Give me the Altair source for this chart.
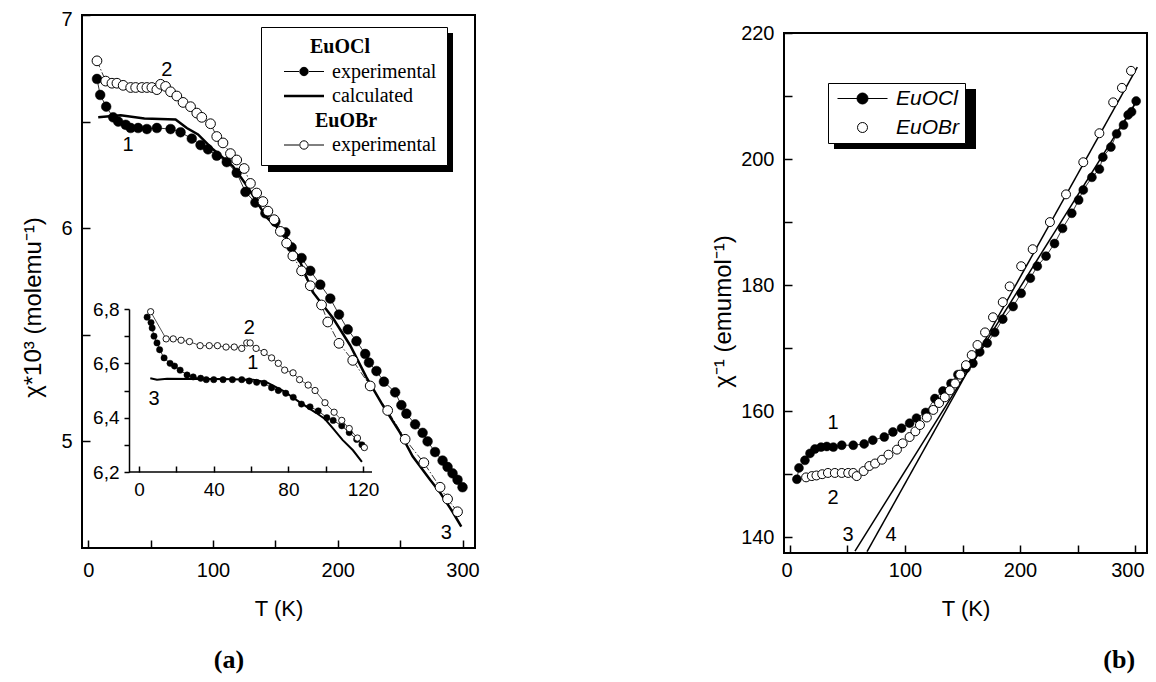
import altair as alt
import pandas as pd

SANS = "Liberation Sans"
SERIF = "Liberation Serif"

# ---------------- panel (a): main ----------------
a_cl_T = [7, 9.6, 14.4, 20, 24, 30, 34, 40, 47, 55, 66, 74, 83, 90, 96, 103, 111, 119, 126, 134, 142,
          150, 158, 163, 171, 178, 186, 194, 201, 208, 215, 222, 225, 231, 237, 246, 251, 255, 262, 268,
          272, 278, 284, 288, 292, 296, 300]
a_cl_v = [6.70, 6.625, 6.57, 6.52, 6.50, 6.485, 6.47, 6.47, 6.465, 6.47, 6.465, 6.45, 6.42, 6.39, 6.37,
          6.34, 6.31, 6.26, 6.17, 6.12, 6.07, 6.03, 5.98, 5.91, 5.86, 5.80, 5.735, 5.67, 5.595, 5.525,
          5.47, 5.41, 5.37, 5.33, 5.28, 5.23, 5.17, 5.13, 5.08, 5.04, 5.00, 4.95, 4.91, 4.88, 4.85, 4.82, 4.785]
a_br_T = [7, 14, 19, 23, 28, 34, 38, 43, 47, 51, 55, 58, 62, 66, 71, 76, 82, 87, 91, 98, 103, 108, 114,
          119, 125, 130, 135, 140, 144, 149, 154, 159, 164, 171, 178, 187, 192, 201, 212, 226, 240, 254,
          269, 282, 288, 296]
a_br_v = [6.785, 6.69, 6.68, 6.68, 6.67, 6.66, 6.66, 6.66, 6.66, 6.66, 6.65, 6.675, 6.665, 6.64, 6.62,
          6.59, 6.57, 6.54, 6.52, 6.49, 6.43, 6.40, 6.35, 6.32, 6.28, 6.21, 6.165, 6.125, 6.08, 6.04,
          5.985, 5.93, 5.87, 5.80, 5.73, 5.64, 5.56, 5.46, 5.38, 5.26, 5.145, 5.01, 4.90, 4.785, 4.73, 4.67]
a_calc_T = [8, 26, 45, 70, 79, 88, 100, 116, 127, 143, 156, 170, 180, 196, 210, 223, 236, 250, 260, 274,
            282, 292, 299]
a_calc_v = [6.52, 6.53, 6.515, 6.51, 6.47, 6.44, 6.37, 6.29, 6.20, 6.05, 5.98, 5.84, 5.70, 5.58, 5.45,
            5.30, 5.17, 5.04, 4.93, 4.82, 4.76, 4.67, 4.60]
a_note_text = ["1", "2", "3"]
a_note_T = [32, 63, 287]
a_note_v = [6.39, 6.74, 4.57]
a_tag_text = ["(a)"]
a_tag_T = [112.8]
a_tag_v = [3.975]
a_x_domain = [-5, 310]
a_y_domain = [4.5, 7]
a_x_ticks = [0, 50, 100, 150, 200, 250, 300]
a_y_ticks = [5, 5.5, 6, 6.5, 7]
a_leg_keys = ["Cl_head", "Cl_exp", "Cl_calc", "Br_head", "Br_exp"]
a_leg_labels = ["EuOCl", "experimental", "calculated", "EuOBr", "experimental"]

# ---------------- panel (a): inset ----------------
i_cl_T = [4.3, 6.4, 7, 8, 9.6, 11, 13.4, 16.6, 19, 22, 25.7, 29, 33, 36, 40, 45, 50, 55, 59, 63, 67, 71,
          74.6, 78.6, 82.6, 87, 91.6, 96, 100.6, 104, 108.6, 112.6, 116.6, 119.4]
i_cl_v = [6.77, 6.75, 6.73, 6.70, 6.675, 6.65, 6.62, 6.60, 6.59, 6.575, 6.557, 6.55, 6.545, 6.54, 6.54,
          6.54, 6.54, 6.54, 6.535, 6.53, 6.527, 6.51, 6.50, 6.49, 6.475, 6.45, 6.44, 6.425, 6.40, 6.39,
          6.37, 6.345, 6.32, 6.30]
i_br_T = [6.2, 14.5, 18.3, 22.5, 27, 32.7, 37.6, 42, 46.6, 51, 55, 57.7, 59.5, 62.7, 67, 71, 74.6, 78,
          82.5, 86, 90.6, 94.3, 99.6, 104.5, 108.6, 112.6, 117, 120.7]
i_br_v = [6.79, 6.69, 6.69, 6.685, 6.68, 6.665, 6.665, 6.665, 6.66, 6.66, 6.655, 6.675, 6.675, 6.655,
          6.64, 6.62, 6.60, 6.575, 6.565, 6.54, 6.52, 6.50, 6.455, 6.42, 6.39, 6.36, 6.325, 6.29]
i_calc_T = [6, 9.6, 15, 30, 45, 61, 68.5, 77, 86, 95, 99.6, 104, 109, 114.6, 119.4]
i_calc_v = [6.545, 6.54, 6.543, 6.542, 6.542, 6.54, 6.53, 6.50, 6.457, 6.417, 6.395, 6.36, 6.318, 6.28, 6.237]
i_note_text = ["2", "1", "3"]
i_note_T = [59, 61, 8]
i_note_v = [6.73, 6.60, 6.47]
i_x_domain = [-5.4, 124.8]
i_y_domain = [6.2, 6.8]
i_x_ticks = [0, 20, 40, 60, 80, 100, 120]
i_y_ticks = [6.2, 6.3, 6.4, 6.5, 6.6, 6.7, 6.8]

# ---------------- panel (b) ----------------
b_cl_T = [6, 7.8, 13, 17.4, 21.7, 27, 32, 37.7, 45, 55, 64.5, 72, 82, 89.5, 97, 104, 110, 118, 126, 133,
          140, 146, 153, 159, 165, 171.5, 178, 185, 194, 201, 209, 215, 222.6, 230, 237, 245, 251, 255,
          262.5, 269, 272, 279, 284, 290, 294, 297, 301]
b_cl_v = [149.2, 151.0, 152.2, 153.3, 154.0, 154.3, 154.4, 154.3, 154.6, 154.6, 154.8, 155.4, 155.9,
          156.7, 157.3, 158.1, 158.9, 159.8, 162.0, 163.2, 164.4, 165.8, 166.8, 167.6, 169.4, 170.8,
          172.5, 174.6, 176.6, 178.7, 181.1, 183.0, 184.6, 186.6, 189.0, 191.4, 193.5, 195.1, 197.1,
          198.4, 200.3, 201.9, 204.0, 205.4, 207.0, 207.5, 209.2]
b_br_T = [14, 19, 23, 28, 33, 39, 45, 50.6, 55, 58, 64, 69, 74, 80, 85.6, 93, 98, 104, 109, 113, 119,
          124.6, 129.6, 134.6, 139, 143.5, 148, 153, 158, 163, 169.6, 176.5, 185, 191, 201, 211, 226,
          240, 255, 269, 281, 288.6, 296.5]
b_br_v = [149.5, 149.7, 149.8, 150.0, 150.2, 150.2, 150.2, 150.2, 150.2, 149.7, 150.5, 151.3, 151.7,
          152.3, 153.1, 153.9, 154.9, 155.9, 156.8, 157.8, 159.0, 160.2, 161.3, 162.2, 163.3, 164.4,
          165.8, 167.3, 168.9, 170.5, 172.5, 174.9, 177.3, 179.8, 183.0, 185.7, 190.0, 194.4, 199.5,
          204.1, 209.0, 211.3, 214.0]
b_fit_id = ["3", "3", "4", "4"]
b_fit_T = [56.5, 300, 67, 302]
b_fit_v = [137.8, 208.8, 137.7, 214.6]
b_note_text = ["1", "2", "3", "4"]
b_note_T = [37.4, 37.4, 50.4, 87.8]
b_note_v = [158.1, 146.2, 140.3, 140.3]
b_tag_text = ["(b)"]
b_tag_T = [286.2]
b_tag_v = [120.5]
b_x_domain = [-5.2, 310.4]
b_y_domain = [137.5, 220]
b_x_ticks = [0, 50, 100, 150, 200, 250, 300]
b_y_ticks = [140, 150, 160, 170, 180, 190, 200, 210, 220]
b_leg_keys = ["Cl", "Br"]
b_leg_labels = ["EuOCl", "EuOBr"]

# ---------------- layout (pixel ranges on a single canvas) ----------------
W, H = 1140, 666
A_XR, A_YR = [74, 467], [540, 7]
I_XR, I_YR = [121, 364], [464, 301]
B_XR, B_YR = [776, 1139], [545, 25]


def scale(domain, rng):
    return alt.Scale(domain=domain, range=rng, zero=False, nice=False)


def axis(orient, values, label_expr, offset, tick, pad, size=20, domain=False, title=None, **kw):
    args = dict(orient=orient, values=values, labelExpr=label_expr, offset=offset, tickSize=tick,
                tickColor="black", tickWidth=1.5, domain=domain, domainColor="black", domainWidth=1.5,
                grid=False, labelFont=SANS, labelFontSize=size, labelColor="black", labelPadding=pad,
                labelOverlap=False)
    if "labelFlush" not in kw:
        args["labelFlush"] = False
    if title is None:
        args["title"] = None
        args.update(kw)
    else:
        args.update(title=title, titleFont=SANS, titleFontWeight="normal", titleColor="black", **kw)
    return alt.Axis(**args)


def switch_expr(keys, values, default):
    expr = default
    for k, v in reversed(list(zip(keys, values))):
        expr = f"datum.value === '{k}' ? {v} : ({expr})"
    return expr


class Panel:
    def __init__(self, xs, ys, ax, ay):
        self.xs, self.ys, self.ax, self.ay = xs, ys, ax, ay

    def enc(self, chart, x="T", y="v", **extra):
        return chart.encode(x=alt.X(f"{x}:Q", scale=self.xs, axis=self.ax),
                            y=alt.Y(f"{y}:Q", scale=self.ys, axis=self.ay), **extra)


def df(**cols):
    return pd.DataFrame(cols)


def legend_layer(keys, labels, paths, fill_expr, main_kw, shadow_box):
    """Legend drawn by Vega-Lite's legend machinery (shape scale gives the symbols),
    plus a one-entry black legend whose symbol is a box: the drop shadow behind it."""
    main = alt.Legend(orient="none", title=None, labelLimit=400,
                      labelExpr=switch_expr(keys, [f"'{l}'" for l in labels], "''"),
                      fillColor="white", strokeColor="black", labelColor="black",
                      symbolStrokeColor="black", symbolFillColor={"expr": fill_expr}, symbolOpacity=1,
                      zindex=2, **main_kw)
    sx, sy, sw, sh = shadow_box
    box_path = f"M-1,-1L{(sw - 10) / 10:.2f},-1L{(sw - 10) / 10:.2f},{(sh - 10) / 10:.2f}L-1,{(sh - 10) / 10:.2f}Z"
    shadow = alt.Legend(orient="none", title=None, legendX=sx, legendY=sy, padding=0, labelExpr="''",
                        labelOffset=0, symbolOffset=0, symbolSize=400, symbolType=box_path,
                        symbolFillColor="black", symbolStrokeColor="black", symbolStrokeWidth=0,
                        symbolOpacity=1, zindex=1)
    return (alt.Chart(df(key=keys, sh=["shadow"] * len(keys))).transform_filter("false")
            .mark_point(filled=True)
            .encode(fill=alt.Fill("key:N", legend=None),
                    opacity=alt.Opacity("sh:O", scale=alt.Scale(domain=["shadow"], range=[1]), legend=shadow),
                    shape=alt.Shape("key:N", scale=alt.Scale(domain=keys, range=paths), legend=main)))


# ---------- panel (a) main ----------
pa = Panel(scale(a_x_domain, A_XR), scale(a_y_domain, A_YR),
           axis("bottom", a_x_ticks, "datum.value % 100 === 0 ? format(datum.value, 'd') : ''",
                A_YR[0] - 8 - H, 8, 12, title="T (K)", titleFontSize=22, titleY=68, titleBaseline="middle"),
           axis("left", a_y_ticks, "datum.value % 1 === 0 ? format(datum.value, 'd') : ''",
                -(A_XR[0] + 8), 8, 10, title="χ*10³  (molemu⁻¹)", titleFontSize=24,
                titleX=25 - (A_XR[0] + 8), titleY=299, titleAngle=270, titleBaseline="middle",
                labelFlush=2, labelFlushOffset=6))

a_frame = pa.enc(alt.Chart(df(T=[a_x_domain[0]], T2=[a_x_domain[1]], v=[a_y_domain[0]], v2=[a_y_domain[1]]))
                 .mark_rect(filled=False, stroke="black", strokeWidth=2),
                 x2="T2:Q", y2="v2:Q")
a_calc = pa.enc(alt.Chart(df(T=a_calc_T, v=a_calc_v)).mark_line(color="black", strokeWidth=2.5))
a_cl_line = pa.enc(alt.Chart(df(T=a_cl_T, v=a_cl_v)).mark_line(color="black", strokeWidth=0.8))
a_cl_pts = pa.enc(alt.Chart(df(T=a_cl_T, v=a_cl_v)).mark_circle(size=95, fill="black", stroke="black",
                                                                 strokeWidth=0.5, opacity=1))
a_br_line = pa.enc(alt.Chart(df(T=a_br_T, v=a_br_v)).mark_line(color="black", strokeWidth=0.8,
                                                                strokeDash=[7, 2, 1.5, 2]))
a_br_pts = pa.enc(alt.Chart(df(T=a_br_T, v=a_br_v)).mark_circle(size=95, fill="white", stroke="black",
                                                                 strokeWidth=1, opacity=1))
a_notes = pa.enc(alt.Chart(df(T=a_note_T, v=a_note_v, t=a_note_text))
                 .mark_text(font=SANS, fontSize=20, color="black"), text="t:N")
a_tag = pa.enc(alt.Chart(df(T=a_tag_T, v=a_tag_v, t=a_tag_text))
               .mark_text(font=SERIF, fontSize=26, fontWeight="bold", color="black"), text="t:N")

A_PATH_EXP = "M-2,0L-0.5,0M0.5,0L2,0M-0.42,0A0.42,0.42,0,1,0,0.42,0A0.42,0.42,0,1,0,-0.42,0Z"
a_leg_paths = ["M0,0L0,0", A_PATH_EXP, "M-2,0L2,0", "M0,0L0,0", A_PATH_EXP]
a_leg = legend_layer(
    a_leg_keys, a_leg_labels, a_leg_paths,
    switch_expr(["Cl_exp"], ["'black'"], "'white'"),
    dict(legendX=253, legendY=19, padding=10, rowPadding=4.5, symbolSize=400, symbolOffset=23,
         labelOffset={"expr": switch_expr(["Cl_head", "Br_head"], ["-4", "1"], "18")},
         labelFont=SERIF, labelFontSize=20,
         labelFontWeight={"expr": switch_expr(["Cl_head", "Br_head"], ["'bold'", "'bold'"], "'normal'")},
         symbolStrokeWidth={"expr": switch_expr(["Cl_calc"], ["2.5"], "1")}),
    (260, 25, 185, 139))

A = alt.layer(a_frame, a_calc, a_cl_line, a_cl_pts, a_br_line, a_br_pts, a_notes, a_tag, a_leg)

# ---------- panel (a) inset ----------
pi = Panel(scale(i_x_domain, I_XR), scale(i_y_domain, I_YR),
           axis("bottom", i_x_ticks, "datum.value % 40 === 0 ? format(datum.value, 'd') : ''",
                I_YR[0] - 6 - H, 6, 8, size=19),
           axis("left", i_y_ticks,
                "round(datum.value * 10) % 2 === 0 ? replace(format(datum.value, '.1f'), '.', ',') : ''",
                -I_XR[0], 5, 5, size=19, domain=True))
i_base = pi.enc(alt.Chart(df(T=[i_x_domain[0]], T2=[i_x_domain[1]], v=[i_y_domain[0]]))
                .mark_rule(color="black", strokeWidth=1.5), x2="T2:Q")
i_calc = pi.enc(alt.Chart(df(T=i_calc_T, v=i_calc_v)).mark_line(color="black", strokeWidth=2))
i_cl_line = pi.enc(alt.Chart(df(T=i_cl_T, v=i_cl_v)).mark_line(color="black", strokeWidth=0.8))
i_cl_pts = pi.enc(alt.Chart(df(T=i_cl_T, v=i_cl_v)).mark_circle(size=40, fill="black", stroke="black",
                                                                 strokeWidth=0.5, opacity=1))
i_br_line = pi.enc(alt.Chart(df(T=i_br_T, v=i_br_v)).mark_line(color="black", strokeWidth=0.7))
i_br_pts = pi.enc(alt.Chart(df(T=i_br_T, v=i_br_v)).mark_circle(size=40, fill="white", stroke="black",
                                                                 strokeWidth=0.9, opacity=1))
i_notes = pi.enc(alt.Chart(df(T=i_note_T, v=i_note_v, t=i_note_text))
                 .mark_text(font=SANS, fontSize=20, color="black"), text="t:N")
I = alt.layer(i_base, i_calc, i_cl_line, i_cl_pts, i_br_line, i_br_pts, i_notes)

# ---------- panel (b) ----------
pb = Panel(scale(b_x_domain, B_XR), scale(b_y_domain, B_YR),
           axis("bottom", b_x_ticks, "datum.value % 100 === 0 ? format(datum.value, 'd') : ''",
                B_YR[0] - 8 - H, 8, 7, title="T (K)", titleFontSize=22, titleY=63, titleBaseline="middle",
                labelFlush=13, labelFlushOffset=9),
           axis("left", b_y_ticks, "datum.value % 20 === 0 ? format(datum.value, 'd') : ''",
                -(B_XR[0] + 8), 8, 10, title="χ⁻¹ (emumol⁻¹)", titleFontSize=24,
                titleX=715 - (B_XR[0] + 8), titleY=303, titleAngle=270, titleBaseline="middle"))
b_frame = pb.enc(alt.Chart(df(T=[b_x_domain[0]], T2=[b_x_domain[1]], v=[b_y_domain[0]], v2=[b_y_domain[1]]))
                 .mark_rect(filled=False, stroke="black", strokeWidth=2),
                 x2="T2:Q", y2="v2:Q")
b_fit = pb.enc(alt.Chart(df(T=b_fit_T, v=b_fit_v, id=b_fit_id)).mark_line(color="black", strokeWidth=1.5),
               detail="id:N")
b_cl_line = pb.enc(alt.Chart(df(T=b_cl_T, v=b_cl_v)).mark_line(color="black", strokeWidth=0.8))
b_cl_pts = pb.enc(alt.Chart(df(T=b_cl_T, v=b_cl_v)).mark_circle(size=80, fill="black", stroke="black",
                                                                 strokeWidth=0.5, opacity=1))
b_br_pts = pb.enc(alt.Chart(df(T=b_br_T, v=b_br_v)).mark_circle(size=80, fill="white", stroke="black",
                                                                 strokeWidth=1, opacity=1))
b_notes = pb.enc(alt.Chart(df(T=b_note_T, v=b_note_v, t=b_note_text))
                 .mark_text(font=SANS, fontSize=20, color="black"), text="t:N")
b_tag = pb.enc(alt.Chart(df(T=b_tag_T, v=b_tag_v, t=b_tag_text))
               .mark_text(font=SERIF, fontSize=26, fontWeight="bold", color="black"), text="t:N")

B_PATH_CL = "M-2.5,0L-0.55,0M0.55,0L2.5,0M-0.55,0A0.55,0.55,0,1,0,0.55,0A0.55,0.55,0,1,0,-0.55,0Z"
B_PATH_BR = "M-0.5,0A0.5,0.5,0,1,0,0.5,0A0.5,0.5,0,1,0,-0.5,0Z"
b_leg = legend_layer(
    b_leg_keys, b_leg_labels, [B_PATH_CL, B_PATH_BR],
    switch_expr(["Cl"], ["'black'"], "'white'"),
    dict(legendX=820, legendY=75, padding=5, rowPadding=7, symbolSize=400, symbolOffset=19,
         labelOffset=23, labelFont=SANS, labelFontSize=21, labelFontStyle="italic", symbolStrokeWidth=1),
    (826, 81, 142, 60))

B = alt.layer(b_frame, b_fit, b_cl_line, b_cl_pts, b_br_pts, b_notes, b_tag, b_leg)

chart = (alt.layer(A, I, B)
         .resolve_scale(x="independent", y="independent", shape="independent", fill="independent",
                        opacity="independent")
         .properties(width=W, height=H, autosize=alt.AutoSizeParams(type="none"), padding=0,
                     background="white")
         .configure_view(stroke="transparent"))

chart.save("out.html", embed_options={"renderer": "svg", "actions": False})
